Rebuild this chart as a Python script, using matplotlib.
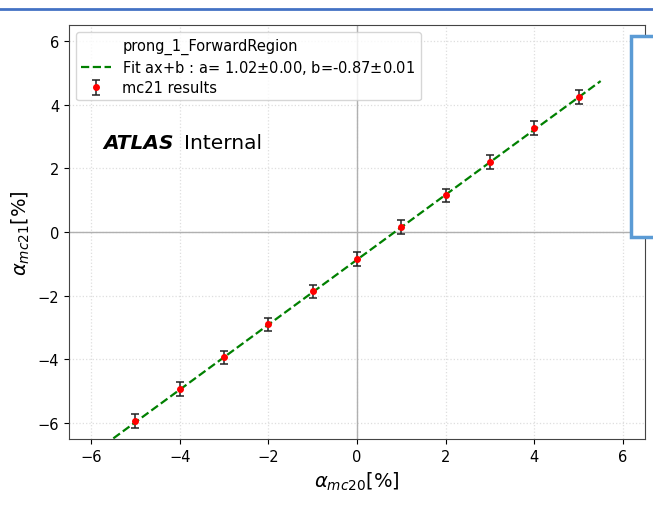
import matplotlib.pyplot as plt
import matplotlib.patches as patches
import numpy as np

# Values
x_mc20 = [-5, -4, -3, -2, -1, 0, 1, 2, 3, 4, 5]
y_mc21 = [-5.93, -4.93, -3.94, -2.90, -1.86, -0.85, 0.16, 1.15, 2.20, 3.27, 4.24]
y_err = [0.21, 0.21, 0.21, 0.21, 0.21, 0.21, 0.21, 0.21, 0.21, 0.21, 0.21]
fit_a = 1.02
fit_b = -0.87
fit_range = [-5.5, 5.5]

fig = plt.figure(figsize=(6.53, 5.06), dpi=100)
ax = fig.add_axes([0.1057, 0.1304, 0.8820, 0.8182])

ax.set_axisbelow(True)
ax.grid(True, color='#dedede', linestyle=':', linewidth=0.9)
ax.axhline(0, color='#b0b0b0', linewidth=1.0, zorder=1.5)
ax.axvline(0, color='#b0b0b0', linewidth=1.0, zorder=1.5)

ax.plot([], [], ' ', label='prong_1_ForwardRegion')
xf = np.array(fit_range)
ax.plot(xf, fit_a * xf + fit_b, '--', color='green', linewidth=1.6,
        label='Fit ax+b : a= %.2f$\\pm$0.00, b=%.2f$\\pm$0.01' % (fit_a, fit_b), zorder=2)
ax.errorbar(x_mc20, y_mc21, yerr=y_err, fmt='o', color='red', markersize=4,
            ecolor='#222222', elinewidth=1.1, capsize=3, capthick=1.1,
            label='mc21 results', zorder=3)

ax.set_xlim(-6.5, 6.5)
ax.set_ylim(-6.5, 6.5)
ax.set_xticks([-6, -4, -2, 0, 2, 4, 6])
ax.set_yticks([-6, -4, -2, 0, 2, 4, 6])
ax.tick_params(labelsize=10.5)
for s in ax.spines.values():
    s.set_color('#444444')

ax.set_xlabel(r'$\alpha_{mc20}$[%]', fontsize=14)
ax.set_ylabel(r'$\alpha_{mc21}$[%]', fontsize=14)

ax.legend(loc='upper left', fontsize=10.5, handlelength=2.0, labelspacing=0.3,
          borderpad=0.35)

ax.text(0.059, 0.717, 'ATLAS', transform=ax.transAxes, fontsize=14.5,
        fontweight='bold', fontstyle='italic', va='center')
ax.text(0.200, 0.717, 'Internal', transform=ax.transAxes, fontsize=14.5, va='center')

# screenshot decorations: blue rule at top, partial box at right edge
fig.add_artist(plt.Line2D([0, 1], [1 - 9.5 / 506, 1 - 9.5 / 506], color='#4472c4',
                          linewidth=2.0, transform=fig.transFigure))
box = patches.Rectangle((631 / 653, 1 - 238 / 506), 40 / 653, 201 / 506,
                        transform=fig.transFigure, facecolor='white',
                        edgecolor='#5b9bd5', linewidth=2.5, zorder=10)
fig.add_artist(box)

fig.savefig('out.png', dpi=100)
